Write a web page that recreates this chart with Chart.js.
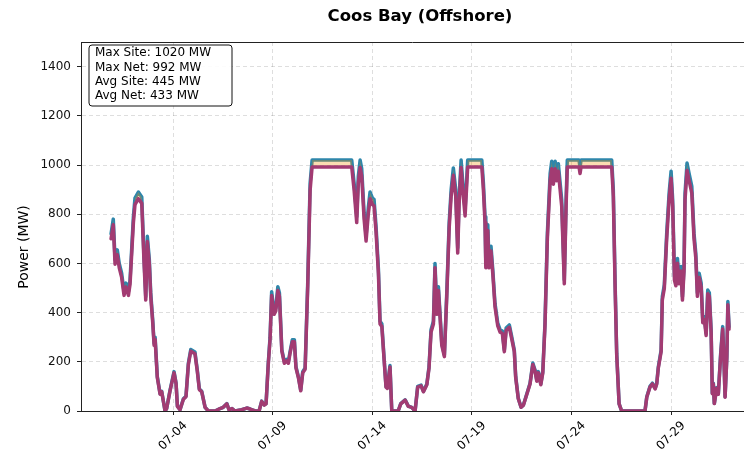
<!DOCTYPE html>
<html>
<head>
<meta charset="utf-8">
<script src="https://cdn.jsdelivr.net/npm/chart.js@4.4.0/dist/chart.umd.min.js"></script>
<style>
  body { margin: 0; background: #fff; }
  canvas { display: block; }
</style>
</head>
<body>
<canvas id="myChart" width="744" height="461"></canvas>
<script>
// day of July (07-04 00:00 = 4.0)
var days = [
  0.89, 1.00, 1.09, 1.20, 1.30, 1.42, 1.54, 1.64, 1.76, 1.84, 2.01, 2.09, 2.26, 2.43, 2.54, 2.63, 2.71, 2.81, 2.88, 2.98,
  3.05, 3.10, 3.21, 3.35, 3.43, 3.60, 3.68, 3.85, 4.05, 4.15, 4.22, 4.35, 4.52, 4.65, 4.77, 4.89, 5.10, 5.22, 5.32, 5.44,
  5.61, 5.77, 6.11, 6.36, 6.52, 6.70, 6.81, 6.96, 7.11, 7.45, 7.70, 7.87, 8.12, 8.32, 8.45, 8.58, 8.67, 8.78, 8.87, 8.95,
  9.07, 9.16, 9.26, 9.34, 9.46, 9.59, 9.71, 9.79, 9.87, 9.99, 10.09, 10.17, 10.29, 10.41, 10.51, 10.63, 10.76, 10.88, 10.98, 12.97,
  13.09, 13.22, 13.30, 13.39, 13.47, 13.59, 13.69, 13.80, 13.89, 14.01, 14.09, 14.19, 14.31, 14.39, 14.48, 14.59, 14.69, 14.76, 14.89, 14.98,
  15.30, 15.43, 15.65, 15.81, 15.98, 16.15, 16.28, 16.45, 16.57, 16.74, 16.85, 16.95, 17.07, 17.15, 17.24, 17.32, 17.40, 17.49, 17.62, 17.74,
  17.86, 17.96, 18.07, 18.19, 18.29, 18.36, 18.46, 18.57, 18.66, 18.79, 19.50, 19.58, 19.66, 19.70, 19.80, 19.86, 19.96, 20.05, 20.16, 20.30,
  20.42, 20.53, 20.63, 20.72, 20.88, 21.00, 21.13, 21.20, 21.33, 21.47, 21.59, 21.76, 21.92, 22.06, 22.17, 22.26, 22.34, 22.46, 22.56, 22.67,
  22.79, 22.93, 23.01, 23.09, 23.18, 23.26, 23.34, 23.51, 23.64, 23.73, 23.79, 24.38, 24.43, 24.48, 26.02, 26.10, 26.19, 26.27, 26.39, 26.52,
  27.69, 27.78, 27.94, 28.06, 28.20, 28.28, 28.36, 28.50, 28.56, 28.66, 28.78, 28.90, 29.00, 29.08, 29.17, 29.24, 29.32, 29.40, 29.49, 29.57,
  29.65, 29.70, 29.80, 29.90, 30.04, 30.15, 30.24, 30.32, 30.41, 30.51, 30.59, 30.67, 30.76, 30.84, 30.92, 31.01, 31.07, 31.12, 31.17, 31.29,
  31.37, 31.49, 31.59, 31.66, 31.71, 31.80, 31.85, 31.91
];

var siteMW = [
  720, 780, 615, 655, 600, 560, 485, 520, 485, 530, 790, 865, 890, 870, 630, 465, 710, 615, 480, 370,
  275, 300, 140, 70, 80, 0, 10, 85, 160, 115, 20, 5, 50, 60, 195, 250, 240, 165, 90, 80,
  15, 0, 0, 10, 15, 30, 5, 10, 0, 5, 12, 8, 0, 0, 40, 25, 30, 195, 300, 485,
  405, 420, 505, 480, 250, 200, 210, 200, 240, 290, 290, 180, 140, 85, 160, 175, 520, 925, 1020, 1020,
  925, 790, 955, 1020, 985, 805, 712, 825, 890, 865, 860, 750, 575, 365, 355, 220, 100, 95, 185, 0,
  0, 30, 45, 20, 15, 0, 100, 105, 80, 110, 180, 330, 365, 600, 405, 505, 398, 275, 228, 480,
  765, 900, 988, 900, 662, 870, 1020, 900, 818, 1020, 1020, 925, 790, 600, 757, 600, 670, 575, 438, 357,
  330, 325, 248, 337, 350, 302, 248, 140, 52, 15, 25, 70, 113, 195, 167, 125, 160, 110, 160, 357,
  723, 967, 1015, 950, 1015, 965, 1005, 858, 533, 858, 1020, 1020, 990, 1020, 1020, 900, 520, 235, 30, 0,
  0, 58, 100, 113, 93, 113, 180, 248, 465, 513, 723, 885, 975, 858, 547, 525, 620, 533, 587, 465,
  587, 885, 1008, 967, 913, 723, 642, 480, 560, 520, 370, 384, 316, 492, 480, 330, 72, 113, 31, 95,
  70, 235, 343, 195, 58, 224, 445, 343
];

var netMW = [
  700, 757, 597, 635, 582, 543, 470, 504, 470, 514, 766, 839, 863, 844, 611, 451, 689, 597, 466, 359,
  267, 291, 136, 68, 78, 0, 10, 82, 155, 112, 19, 5, 48, 58, 189, 243, 233, 160, 87, 78,
  15, 0, 0, 10, 15, 29, 5, 10, 0, 5, 12, 8, 0, 0, 39, 24, 29, 189, 291, 470,
  393, 407, 490, 466, 243, 194, 204, 194, 233, 281, 281, 175, 136, 82, 155, 170, 504, 897, 992, 992,
  897, 766, 926, 990, 955, 781, 691, 800, 863, 839, 834, 728, 558, 354, 344, 213, 97, 92, 179, 0,
  0, 29, 44, 19, 15, 0, 97, 102, 78, 107, 175, 320, 354, 582, 393, 490, 386, 267, 221, 466,
  742, 873, 958, 873, 642, 844, 990, 873, 793, 992, 992, 897, 766, 582, 734, 582, 650, 558, 425, 346,
  320, 315, 241, 327, 340, 293, 241, 136, 50, 15, 24, 68, 110, 189, 162, 121, 155, 107, 155, 346,
  701, 938, 985, 922, 985, 936, 975, 832, 517, 832, 992, 992, 965, 992, 992, 873, 504, 228, 29, 0,
  0, 56, 97, 110, 90, 110, 175, 241, 451, 498, 701, 858, 946, 832, 531, 509, 601, 517, 569, 451,
  569, 858, 978, 938, 886, 701, 623, 466, 543, 504, 359, 372, 307, 477, 466, 320, 70, 110, 30, 92,
  68, 228, 333, 189, 56, 217, 432, 333
];

var tickDays = [4, 9, 14, 19, 24, 29];
var tickLabels = ['07-04', '07-09', '07-14', '07-19', '07-24', '07-29'];
var yTicks = [0, 200, 400, 600, 800, 1000, 1200, 1400];
var statLines = ['Max Site: 1020 MW', 'Max Net: 992 MW', 'Avg Site: 445 MW', 'Avg Net: 433 MW'];

Chart.defaults.font.family = 'DejaVu Sans';
Chart.defaults.color = '#111';

var extras = {
  id: 'extras',
  afterDraw: function(chart) {
    var ctx = chart.ctx;
    var area = chart.chartArea;
    var xs = chart.scales.x;

    // top spine
    ctx.save();
    ctx.strokeStyle = '#222';
    ctx.lineWidth = 1;
    ctx.beginPath();
    ctx.moveTo(area.left, area.top + 0.5);
    ctx.lineTo(area.right, area.top + 0.5);
    ctx.stroke();

    // title
    ctx.fillStyle = '#000';
    ctx.font = 'bold 16.5px "DejaVu Sans"';
    ctx.textAlign = 'center';
    ctx.textBaseline = 'middle';
    ctx.fillText('Coos Bay (Offshore)', 420, 17);

    // y axis label
    ctx.save();
    ctx.translate(24, 247);
    ctx.rotate(-Math.PI / 2);
    ctx.font = '14px "DejaVu Sans"';
    ctx.fillText('Power (MW)', 0, 0);
    ctx.restore();

    // x tick labels, rotated 45deg, centred on tick
    ctx.font = '12px "DejaVu Sans"';
    for (var i = 0; i < tickDays.length; i++) {
      var px = xs.getPixelForValue(tickDays[i]);
      ctx.save();
      ctx.translate(px, area.bottom + 25);
      ctx.rotate(-Math.PI / 4);
      ctx.textAlign = 'center';
      ctx.textBaseline = 'middle';
      ctx.fillText(tickLabels[i], 0, 0);
      ctx.restore();
    }

    // stats box
    var bx = area.left + 8, by = area.top + 3, bw = 143, bh = 61, r = 3;
    ctx.beginPath();
    ctx.moveTo(bx + r, by);
    ctx.arcTo(bx + bw, by, bx + bw, by + bh, r);
    ctx.arcTo(bx + bw, by + bh, bx, by + bh, r);
    ctx.arcTo(bx, by + bh, bx, by, r);
    ctx.arcTo(bx, by, bx + bw, by, r);
    ctx.closePath();
    ctx.fillStyle = 'rgba(255,255,255,0.9)';
    ctx.fill();
    ctx.strokeStyle = '#111';
    ctx.lineWidth = 1;
    ctx.stroke();
    ctx.fillStyle = '#000';
    ctx.font = '12px "DejaVu Sans"';
    ctx.textAlign = 'left';
    ctx.textBaseline = 'middle';
    for (var j = 0; j < statLines.length; j++) {
      ctx.fillText(statLines[j], bx + 6, by + 8 + j * 14.4);
    }
    ctx.restore();
  }
};

var ctx = document.getElementById('myChart').getContext('2d');

var myChart = new Chart(ctx, {
  type: 'line',
  data: {
    datasets: [{
      label: 'Site',
      data: days.map(function(d, i) { return { x: d, y: siteMW[i] }; }),
      borderColor: '#2E86AB',
      borderWidth: 3.5,
      borderJoinStyle: 'round',
      borderCapStyle: 'round',
      pointRadius: 0,
      tension: 0,
      fill: false,
      order: 1
    }, {
      label: 'Net',
      data: days.map(function(d, i) { return { x: d, y: netMW[i] }; }),
      borderColor: '#A23B72',
      backgroundColor: 'rgba(241, 143, 1, 0.3)',
      borderWidth: 3.5,
      borderJoinStyle: 'round',
      borderCapStyle: 'round',
      pointRadius: 0,
      tension: 0,
      fill: '-1',
      order: 0
    }]
  },
  options: {
    responsive: false,
    animation: false,
    layout: { padding: { top: 42, right: 0, left: 0, bottom: 0 } },
    plugins: {
      legend: { display: false },
      tooltip: { enabled: false },
      title: { display: false }
    },
    scales: {
      x: {
        type: 'linear',
        min: -0.62,
        max: 32.66,
        afterBuildTicks: function(axis) {
          axis.ticks = tickDays.map(function(v) { return { value: v }; });
        },
        afterFit: function(axis) { axis.height = 50; },
        ticks: { display: false },
        grid: {
          color: 'rgba(0,0,0,0.13)',
          lineWidth: 1,
          tickLength: 4,
          tickColor: '#222',
          tickBorderDash: []
        },
        border: { display: true, color: '#222', width: 1, dash: [4, 3] }
      },
      y: {
        min: 0,
        max: 1500,
        afterBuildTicks: function(axis) {
          axis.ticks = yTicks.map(function(v) { return { value: v }; });
        },
        afterFit: function(axis) { axis.width = 81; },
        ticks: {
          font: { size: 12 },
          color: '#111',
          padding: 6,
          callback: function(value) { return String(value); }
        },
        grid: {
          color: 'rgba(0,0,0,0.13)',
          lineWidth: 1,
          tickLength: 4,
          tickColor: '#222',
          tickBorderDash: []
        },
        border: { display: true, color: '#222', width: 1, dash: [4, 3] }
      }
    }
  },
  plugins: [extras]
});
</script>
</body>
</html>
